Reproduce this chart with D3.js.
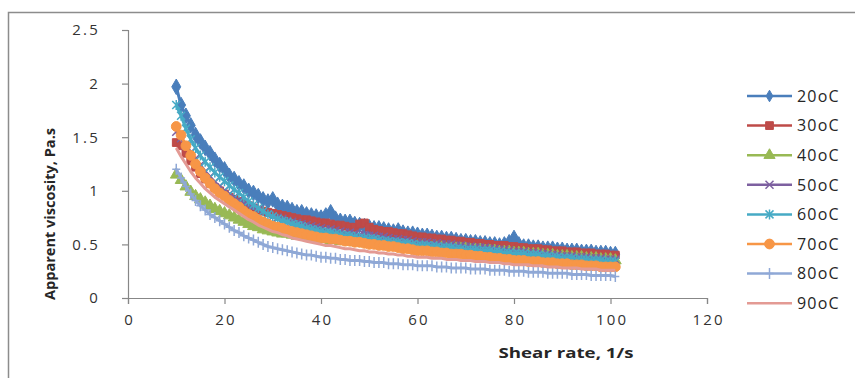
<!DOCTYPE html>
<html>
<head>
<meta charset="utf-8">
<script src="https://cdn.jsdelivr.net/npm/d3@7"></script>
<style>
  html, body { margin: 0; padding: 0; background: #fff; }
  svg { display: block; }
</style>
</head>
<body>
<div id="chart"></div>
<script>
// Shear rate (1/s), shared by every series
const shearRate = [
  10, 11, 12, 13, 14, 15, 16, 17, 18, 19,
  20, 21, 22, 23, 24, 25, 26, 27, 28, 29,
  30, 31, 32, 33, 34, 35, 36, 37, 38, 39,
  40, 41, 42, 43, 44, 45, 46, 47, 48, 49,
  50, 51, 52, 53, 54, 55, 56, 57, 58, 59,
  60, 61, 62, 63, 64, 65, 66, 67, 68, 69,
  70, 71, 72, 73, 74, 75, 76, 77, 78, 79,
  80, 81, 82, 83, 84, 85, 86, 87, 88, 89,
  90, 91, 92, 93, 94, 95, 96, 97, 98, 99,
  100, 101
];

// Apparent viscosity (Pa.s) per temperature
const visc20 = [
  1.97, 1.80, 1.70, 1.61, 1.52, 1.46, 1.40, 1.35, 1.29, 1.24,
  1.20, 1.14, 1.11, 1.07, 1.04, 1.00, 0.98, 0.95, 0.92, 0.90,
  0.92, 0.87, 0.85, 0.84, 0.82, 0.80, 0.80, 0.78, 0.77, 0.76,
  0.75, 0.77, 0.80, 0.74, 0.72, 0.71, 0.71, 0.69, 0.68, 0.67,
  0.66, 0.65, 0.65, 0.64, 0.63, 0.62, 0.63, 0.61, 0.60, 0.60,
  0.59, 0.58, 0.58, 0.57, 0.56, 0.56, 0.55, 0.55, 0.54, 0.53,
  0.53, 0.52, 0.52, 0.51, 0.51, 0.50, 0.50, 0.49, 0.50, 0.52,
  0.56, 0.50, 0.48, 0.48, 0.47, 0.47, 0.46, 0.46, 0.46, 0.45,
  0.45, 0.44, 0.44, 0.44, 0.43, 0.43, 0.43, 0.42, 0.42, 0.42,
  0.41, 0.41
];
const visc30 = [
  1.45, 1.42, 1.35, 1.28, 1.22, 1.16, 1.11, 1.07, 1.03, 1.00,
  0.97, 0.94, 0.92, 0.90, 0.88, 0.86, 0.84, 0.82, 0.81, 0.80,
  0.79, 0.78, 0.77, 0.76, 0.75, 0.74, 0.73, 0.73, 0.72, 0.71,
  0.70, 0.70, 0.69, 0.68, 0.68, 0.67, 0.66, 0.66, 0.69, 0.70,
  0.66, 0.64, 0.63, 0.62, 0.62, 0.61, 0.60, 0.60, 0.59, 0.58,
  0.57, 0.57, 0.56, 0.56, 0.55, 0.55, 0.54, 0.54, 0.53, 0.53,
  0.52, 0.52, 0.51, 0.51, 0.50, 0.50, 0.49, 0.49, 0.49, 0.48,
  0.48, 0.47, 0.47, 0.46, 0.46, 0.46, 0.45, 0.45, 0.44, 0.44,
  0.44, 0.43, 0.43, 0.43, 0.42, 0.42, 0.42, 0.41, 0.41, 0.41,
  0.40, 0.40
];
const visc40 = [
  1.15, 1.10, 1.04, 0.99, 0.95, 0.92, 0.89, 0.86, 0.83, 0.81,
  0.79, 0.77, 0.75, 0.73, 0.71, 0.69, 0.67, 0.66, 0.64, 0.63,
  0.62, 0.61, 0.60, 0.60, 0.59, 0.58, 0.58, 0.57, 0.56, 0.56,
  0.55, 0.55, 0.54, 0.54, 0.53, 0.53, 0.53, 0.52, 0.52, 0.51,
  0.51, 0.51, 0.50, 0.50, 0.50, 0.49, 0.49, 0.49, 0.48, 0.48,
  0.48, 0.48, 0.47, 0.47, 0.47, 0.47, 0.46, 0.46, 0.46, 0.46,
  0.46, 0.45, 0.45, 0.45, 0.44, 0.44, 0.44, 0.43, 0.43, 0.43,
  0.42, 0.42, 0.42, 0.41, 0.41, 0.41, 0.40, 0.40, 0.40, 0.39,
  0.39, 0.39, 0.38, 0.38, 0.38, 0.37, 0.37, 0.37, 0.36, 0.36,
  0.36, 0.35
];
const visc50 = [
  1.55, 1.49, 1.42, 1.36, 1.30, 1.24, 1.18, 1.13, 1.08, 1.04,
  1.00, 0.97, 0.94, 0.91, 0.89, 0.86, 0.84, 0.82, 0.80, 0.78,
  0.76, 0.75, 0.74, 0.72, 0.71, 0.70, 0.69, 0.68, 0.67, 0.66,
  0.65, 0.64, 0.64, 0.63, 0.62, 0.61, 0.61, 0.60, 0.59, 0.59,
  0.58, 0.58, 0.57, 0.57, 0.56, 0.55, 0.55, 0.54, 0.54, 0.53,
  0.52, 0.52, 0.52, 0.51, 0.51, 0.50, 0.50, 0.50, 0.49, 0.49,
  0.48, 0.48, 0.47, 0.47, 0.47, 0.46, 0.46, 0.45, 0.45, 0.44,
  0.43, 0.43, 0.43, 0.42, 0.42, 0.42, 0.41, 0.41, 0.40, 0.40,
  0.39, 0.39, 0.39, 0.38, 0.38, 0.38, 0.37, 0.37, 0.37, 0.36,
  0.36, 0.36
];
const visc60 = [
  1.80, 1.70, 1.58, 1.48, 1.40, 1.33, 1.27, 1.22, 1.17, 1.13,
  1.09, 1.05, 1.01, 0.98, 0.94, 0.90, 0.87, 0.84, 0.81, 0.78,
  0.76, 0.74, 0.72, 0.71, 0.69, 0.68, 0.67, 0.65, 0.64, 0.63,
  0.62, 0.61, 0.61, 0.60, 0.59, 0.58, 0.58, 0.57, 0.56, 0.56,
  0.55, 0.55, 0.54, 0.53, 0.53, 0.52, 0.52, 0.51, 0.51, 0.50,
  0.49, 0.49, 0.49, 0.48, 0.48, 0.47, 0.47, 0.47, 0.46, 0.46,
  0.45, 0.45, 0.45, 0.44, 0.44, 0.44, 0.43, 0.43, 0.42, 0.42,
  0.41, 0.41, 0.41, 0.40, 0.40, 0.40, 0.39, 0.39, 0.38, 0.38,
  0.37, 0.37, 0.37, 0.36, 0.36, 0.36, 0.35, 0.35, 0.35, 0.34,
  0.34, 0.34
];
const visc70 = [
  1.60, 1.52, 1.42, 1.33, 1.25, 1.18, 1.12, 1.07, 1.02, 0.98,
  0.95, 0.91, 0.88, 0.85, 0.81, 0.78, 0.76, 0.73, 0.71, 0.69,
  0.67, 0.66, 0.65, 0.63, 0.62, 0.61, 0.60, 0.59, 0.58, 0.57,
  0.56, 0.56, 0.55, 0.55, 0.54, 0.53, 0.53, 0.52, 0.52, 0.51,
  0.50, 0.50, 0.49, 0.49, 0.48, 0.48, 0.47, 0.46, 0.46, 0.45,
  0.44, 0.44, 0.44, 0.43, 0.43, 0.42, 0.42, 0.41, 0.41, 0.41,
  0.40, 0.40, 0.39, 0.39, 0.38, 0.38, 0.37, 0.37, 0.36, 0.36,
  0.35, 0.35, 0.35, 0.34, 0.34, 0.34, 0.33, 0.33, 0.33, 0.32,
  0.32, 0.32, 0.31, 0.31, 0.31, 0.30, 0.30, 0.30, 0.29, 0.29,
  0.29, 0.29
];
const visc80 = [
  1.20, 1.12, 1.04, 0.97, 0.91, 0.86, 0.82, 0.78, 0.75, 0.72,
  0.69, 0.66, 0.63, 0.61, 0.58, 0.56, 0.54, 0.52, 0.50, 0.48,
  0.47, 0.46, 0.45, 0.44, 0.43, 0.42, 0.41, 0.40, 0.40, 0.39,
  0.38, 0.38, 0.37, 0.37, 0.36, 0.36, 0.35, 0.35, 0.35, 0.34,
  0.34, 0.33, 0.33, 0.33, 0.32, 0.32, 0.32, 0.31, 0.31, 0.31,
  0.30, 0.30, 0.30, 0.30, 0.29, 0.29, 0.29, 0.28, 0.28, 0.28,
  0.28, 0.27, 0.27, 0.27, 0.27, 0.26, 0.26, 0.26, 0.26, 0.25,
  0.25, 0.25, 0.25, 0.24, 0.24, 0.24, 0.24, 0.23, 0.23, 0.23,
  0.23, 0.23, 0.22, 0.22, 0.22, 0.22, 0.21, 0.21, 0.21, 0.21,
  0.21, 0.20
];
const visc90 = [
  1.40, 1.32, 1.25, 1.18, 1.12, 1.07, 1.02, 0.98, 0.94, 0.91,
  0.88, 0.85, 0.82, 0.79, 0.76, 0.73, 0.71, 0.68, 0.66, 0.64,
  0.62, 0.61, 0.59, 0.58, 0.56, 0.55, 0.54, 0.53, 0.52, 0.51,
  0.50, 0.49, 0.49, 0.48, 0.47, 0.46, 0.46, 0.45, 0.44, 0.44,
  0.43, 0.43, 0.42, 0.42, 0.41, 0.41, 0.40, 0.40, 0.39, 0.39,
  0.38, 0.38, 0.38, 0.37, 0.37, 0.37, 0.36, 0.36, 0.36, 0.35,
  0.35, 0.35, 0.34, 0.34, 0.34, 0.33, 0.33, 0.33, 0.32, 0.32,
  0.31, 0.31, 0.31, 0.31, 0.30, 0.30, 0.30, 0.29, 0.29, 0.29,
  0.28, 0.28, 0.28, 0.28, 0.27, 0.27, 0.27, 0.27, 0.26, 0.26,
  0.26, 0.26
];

const seriesNames = ['20oC', '30oC', '40oC', '50oC', '60oC', '70oC', '80oC', '90oC'];
const seriesValues = [visc20, visc30, visc40, visc50, visc60, visc70, visc80, visc90];
const seriesColors = ['#4a7ebb', '#be4b48', '#98b954', '#7d60a0', '#46aac5', '#f79646', '#8fa8d6', '#e39a94'];
const seriesMarkers = ['diamond', 'square', 'triangle', 'x', 'asterisk', 'circle', 'plus', 'none'];

const xTicks = [0, 20, 40, 60, 80, 100, 120];
const yTicks = [0, 0.5, 1, 1.5, 2, 2.5];

const width = 855, height = 378;
const plot = { left: 128, right: 707, top: 30, bottom: 298 };

const svg = d3.select('#chart').append('svg')
  .attr('width', width)
  .attr('height', height);

// slight softening, the reference is a blurry scan
const defs = svg.append('defs');
defs.append('filter').attr('id', 'soft')
  .append('feGaussianBlur').attr('stdDeviation', 0.55);

// Chart frame (runs off the right and bottom edges as in the picture)
svg.append('rect')
  .attr('x', 8.5).attr('y', 12.5)
  .attr('width', 860).attr('height', 380)
  .attr('fill', 'none')
  .attr('stroke', '#8c8c8c')
  .attr('stroke-width', 1.5);

const x = d3.scaleLinear().domain([0, 120]).range([plot.left, plot.right]);
const y = d3.scaleLinear().domain([0, 2.5]).range([plot.bottom, plot.top]);

const fontFamily = '"Open Sans", "Liberation Sans", sans-serif';

// Axes
const xAxis = svg.append('g')
  .attr('transform', `translate(0,${plot.bottom})`)
  .call(d3.axisBottom(x).tickValues(xTicks).tickSize(6).tickPadding(10).tickFormat(d3.format('d')));

const yAxis = svg.append('g')
  .attr('transform', `translate(${plot.left},0)`)
  .call(d3.axisLeft(y).tickValues(yTicks).tickSize(6).tickPadding(22).tickFormat(d => d3.format('')(d)));

[xAxis, yAxis].forEach(ax => {
  ax.select('.domain').attr('stroke', '#878787').attr('stroke-width', 1.2);
  ax.selectAll('.tick line').attr('stroke', '#878787').attr('stroke-width', 1.2);
  ax.selectAll('.tick text')
    .attr('fill', '#333')
    .style('font-family', fontFamily)
    .style('font-size', '15px')
    .style('letter-spacing', '2.2px');
});
// letter-spacing adds a trailing gap; shift labels to keep them centred
xAxis.selectAll('.tick text').attr('dx', '1.1px');

// Axis titles
svg.append('text')
  .attr('x', 566).attr('y', 358)
  .attr('text-anchor', 'middle')
  .attr('textLength', 135)
  .attr('lengthAdjust', 'spacingAndGlyphs')
  .style('font-family', fontFamily)
  .style('font-weight', 'bold')
  .style('font-size', '14px')
  .attr('fill', '#262626')
  .text('Shear rate, 1/s');

svg.append('text')
  .attr('transform', 'translate(55,214) rotate(-90)')
  .attr('text-anchor', 'middle')
  .attr('textLength', 172)
  .attr('lengthAdjust', 'spacingAndGlyphs')
  .style('font-family', fontFamily)
  .style('font-weight', 'bold')
  .style('font-size', '14px')
  .attr('fill', '#262626')
  .text('Apparent viscosity, Pa.s');

// Marker shapes
function markerPath(type, k) {
  switch (type) {
    case 'diamond': return d3.symbol(d3.symbolDiamond, 70 * k)();
    case 'square': return d3.symbol(d3.symbolSquare, 60 * k)();
    case 'triangle': return d3.symbol(d3.symbolTriangle, 60 * k)();
    case 'circle': return d3.symbol(d3.symbolCircle, 75 * k)();
    case 'x': return 'M-4,-4L4,4M-4,4L4,-4';
    case 'asterisk': return 'M-4,-4L4,4M-4,4L4,-4M0,-5L0,5';
    case 'plus': return 'M-4,0L4,0M0,-5.5L0,5.5';
    default: return null;
  }
}
const strokeMarkers = new Set(['x', 'asterisk', 'plus']);

function drawMarker(g, type, color, cx, cy, k) {
  const p = markerPath(type, k);
  if (!p) return;
  const m = g.append('path')
    .attr('d', p)
    .attr('transform', `translate(${cx},${cy})`);
  if (strokeMarkers.has(type)) {
    m.attr('fill', 'none').attr('stroke', color).attr('stroke-width', 1.5);
  } else {
    m.attr('fill', color).attr('stroke', color).attr('stroke-width', 1);
  }
}

const line = d3.line()
  .x(d => x(d[0]))
  .y(d => y(d[1]));

const seriesLayer = svg.append('g').attr('filter', 'url(#soft)');
seriesNames.forEach((name, i) => {
  const pts = shearRate.map((s, j) => [s, seriesValues[i][j]]);
  const g = seriesLayer.append('g').attr('class', 'series');
  g.append('path')
    .datum(pts)
    .attr('d', line)
    .attr('fill', 'none')
    .attr('stroke', seriesColors[i])
    .attr('stroke-width', 3)
    .attr('stroke-linejoin', 'round');
  pts.forEach(p => drawMarker(g, seriesMarkers[i], seriesColors[i], x(p[0]), y(p[1]), 1));
});

// Legend (Excel draws the diamond small, the square and circle larger)
const legendScale = [0.55, 1.0, 0.9, 1, 1, 1.0, 1, 1];
const legend = svg.append('g');
seriesNames.forEach((name, i) => {
  const ly = 96 + i * 29.6;
  const row = legend.append('g');
  row.append('line')
    .attr('x1', 747).attr('x2', 792)
    .attr('y1', ly).attr('y2', ly)
    .attr('stroke', seriesColors[i])
    .attr('stroke-width', 2.5);
  drawMarker(row, seriesMarkers[i], seriesColors[i], 769.5, ly, legendScale[i]);
  row.append('text')
    .attr('x', 797).attr('y', ly)
    .attr('dy', '0.36em')
    .style('font-family', fontFamily)
    .style('font-size', '16px')
    .style('letter-spacing', '1.2px')
    .attr('fill', '#262626')
    .text(name);
});
</script>
</body>
</html>
